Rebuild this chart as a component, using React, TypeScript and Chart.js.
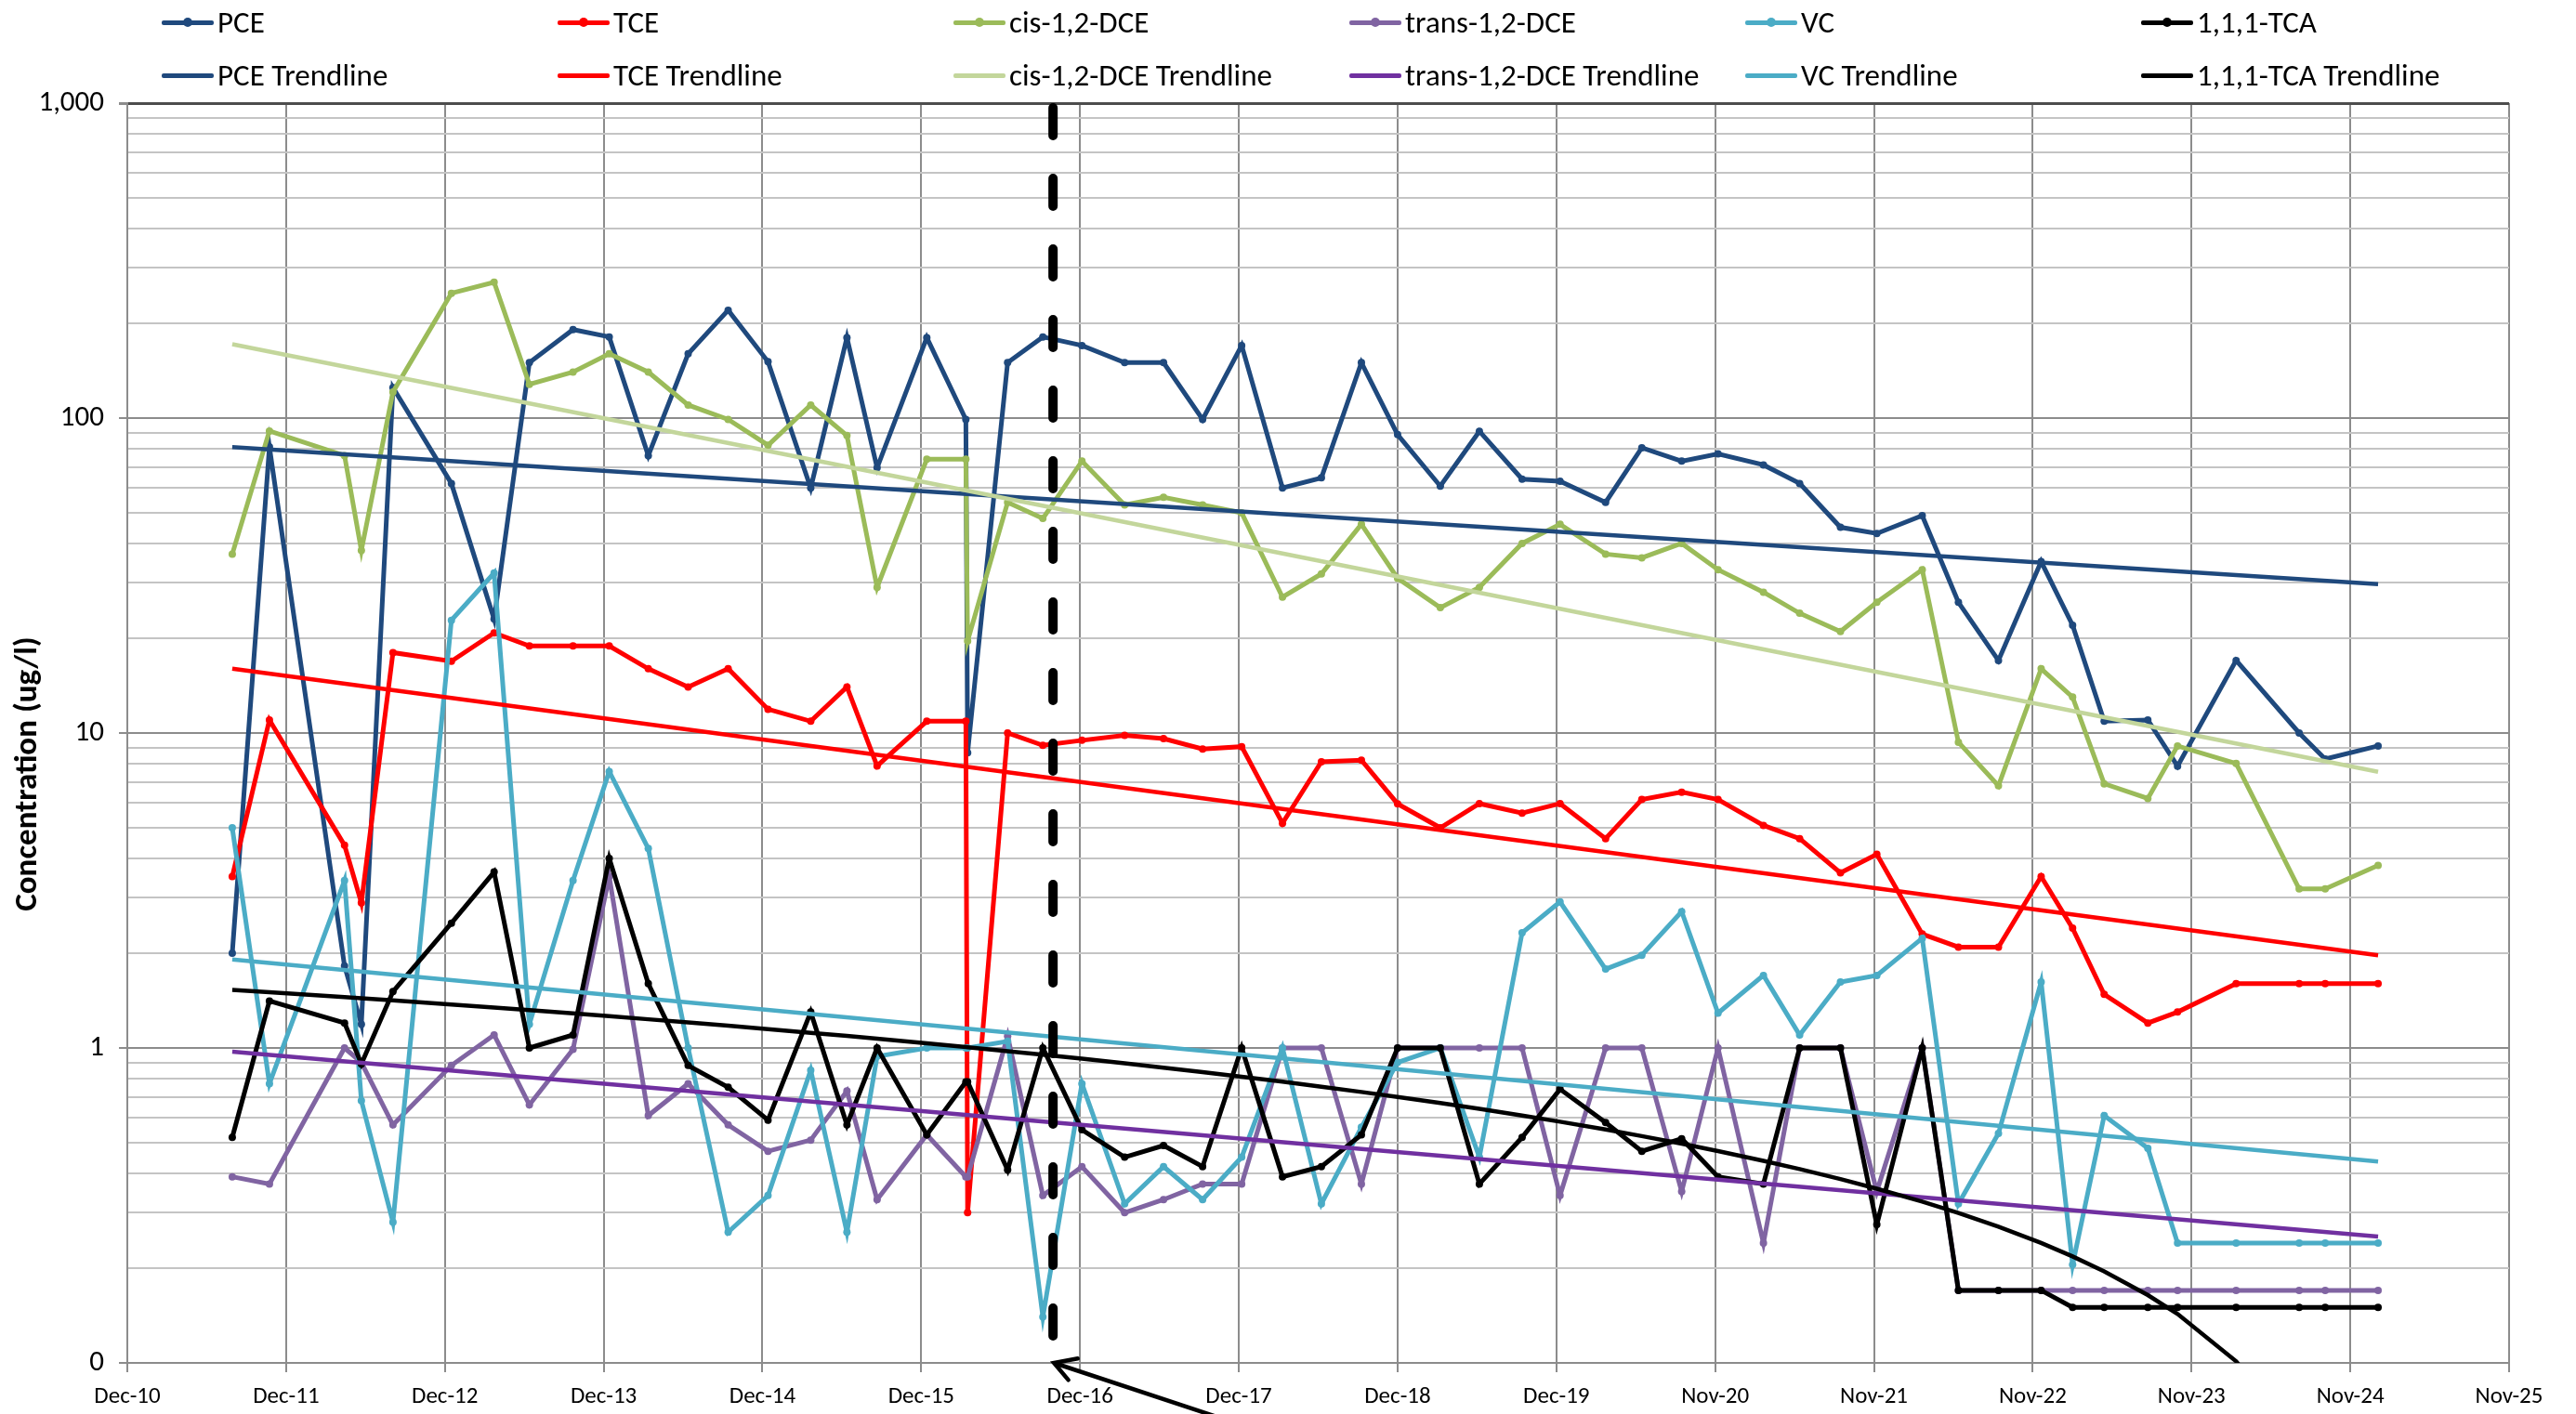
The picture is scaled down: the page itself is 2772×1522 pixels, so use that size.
import React, { useEffect, useRef } from 'react';
import { Chart, registerables } from 'chart.js';

Chart.register(...registerables);

const FONT = 'Calibri, Carlito, Lato, "Noto Sans", sans-serif';

// x axis: years counted from the first axis tick (Dec-10), one tick per year
const xTickLabels = [
  'Dec-10', 'Dec-11', 'Dec-12', 'Dec-13', 'Dec-14', 'Dec-15', 'Dec-16', 'Dec-17',
  'Dec-18', 'Dec-19', 'Nov-20', 'Nov-21', 'Nov-22', 'Nov-23', 'Nov-24', 'Nov-25',
];

const sampleYears = [
  0.661, 0.895, 1.368, 1.474, 1.673, 2.041, 2.31, 2.532, 2.807, 3.035,
  3.281, 3.532, 3.784, 4.035, 4.304, 4.532, 4.722, 5.035, 5.281, 5.292,
  5.544, 5.766, 6.012, 6.281, 6.526, 6.772, 7.018, 7.275, 7.52, 7.772,
  8.0, 8.269, 8.515, 8.784, 9.023, 9.31, 9.538, 9.789, 10.018, 10.304,
  10.532, 10.789, 11.018, 11.304, 11.532, 11.784, 12.053, 12.251, 12.45, 12.725,
  12.912, 13.281, 13.678, 13.842, 14.175,
];

const pce = [
  2.0, 81, 1.82, 1.19, 125, 62, 23, 150, 191, 181,
  76, 160, 220, 151, 60, 180, 69.5, 180, 99, 8.65,
  150, 181, 170, 150, 150, 99, 170, 60, 64.6, 150,
  88.6, 60.8, 90.8, 64, 63, 54, 80.5, 73, 77, 71,
  62, 45, 43, 49, 26, 17, 35, 22, 10.9, 11,
  7.85, 17, 10, 8.27, 9.1,
];

const tce = [
  3.5, 11, 4.4, 2.89, 18, 16.9, 20.8, 18.9, 18.9, 18.9,
  16, 14, 16, 11.9, 10.9, 14, 7.86, 10.9, 10.9, 0.3,
  10, 9.14, 9.48, 9.83, 9.6, 8.9, 9.05, 5.17, 8.1, 8.2,
  5.96, 5.0, 5.97, 5.57, 5.97, 4.62, 6.15, 6.49, 6.15, 5.09,
  4.62, 3.6, 4.12, 2.3, 2.09, 2.09, 3.5, 2.4, 1.48, 1.2,
  1.3, 1.6, 1.6, 1.6, 1.6,
];

const cisDce = [
  37, 91, 76, 38, 121, 249, 270, 128, 140, 160,
  140, 110, 99, 82, 110, 88, 29, 74, 74, 19.6,
  54, 48, 73, 53, 56, 53, 50, 27, 32, 46,
  31, 25, 29, 40, 46, 37, 36, 40, 33, 28,
  24, 21, 26, 33, 9.35, 6.8, 16, 13, 6.9, 6.2,
  9.1, 8.0, 3.2, 3.2, 3.8,
];

const transDce = [
  0.39, 0.37, 1.0, 0.9, 0.57, 0.88, 1.1, 0.66, 0.99, 3.5,
  0.61, 0.77, 0.57, 0.47, 0.51, 0.73, 0.33, 0.53, 0.39, 0.39,
  1.09, 0.34, 0.42, 0.3, 0.33, 0.37, 0.37, 1.0, 1.0, 0.37,
  1.0, 1.0, 1.0, 1.0, 0.34, 1.0, 1.0, 0.35, 1.0, 0.24,
  1.0, 1.0, 0.35, 1.0, 0.17, 0.17, 0.17, 0.17, 0.17, 0.17,
  0.17, 0.17, 0.17, 0.17, 0.17,
];

const vc = [
  5.0, 0.77, 3.4, 0.68, 0.28, 22.8, 32.2, 1.19, 3.4, 7.55,
  4.3, 1.0, 0.26, 0.34, 0.85, 0.26, 0.94, 1.0, 1.0, 1.0,
  1.05, 0.14, 0.77, 0.32, 0.42, 0.33, 0.45, 1.0, 0.32, 0.56,
  0.9, 1.0, 0.45, 2.32, 2.91, 1.78, 1.97, 2.71, 1.29, 1.7,
  1.1, 1.62, 1.7, 2.23, 0.32, 0.535, 1.62, 0.205, 0.61, 0.48,
  0.24, 0.24, 0.24, 0.24, 0.24,
];

const tca = [
  0.52, 1.41, 1.2, 0.89, 1.51, 2.49, 3.62, 1.0, 1.1, 4.0,
  1.6, 0.88, 0.75, 0.59, 1.3, 0.57, 1.0, 0.53, 0.78, 0.78,
  0.41, 1.0, 0.55, 0.45, 0.49, 0.42, 1.0, 0.39, 0.42, 0.53,
  1.0, 1.0, 0.37, 0.52, 0.74, 0.58, 0.47, 0.515, 0.39, 0.37,
  1.0, 1.0, 0.275, 1.0, 0.17, 0.17, 0.17, 0.15, 0.15, 0.15,
  0.15, 0.15, 0.15, 0.15, 0.15,
];

const seriesNames = ['PCE', 'TCE', 'cis-1,2-DCE', 'trans-1,2-DCE', 'VC', '1,1,1-TCA'];
const seriesValues = [pce, tce, cisDce, transDce, vc, tca];
const seriesColors = ['#1F497D', '#FF0000', '#9BBB59', '#8064A2', '#4BACC6', '#000000'];
const trendColors = ['#1F497D', '#FF0000', '#C3D69B', '#7030A0', '#4BACC6', '#000000'];

// trendlines: value at first and at last sample date
const trendTypes = ['exponential', 'exponential', 'exponential', 'exponential', 'exponential', 'linear'];
const trendStartValues = [80.9, 16.0, 171.6, 0.973, 1.91, 1.53];
const trendEndValues = [29.7, 1.97, 7.53, 0.252, 0.436, 0.0];

const yAxisTitle = 'Concentration (ug/l)';

// event marker (dashed vertical line)
const markerYear = 5.83;

const PLOT = { left: 137, right: 2700, top: 111, bottom: 1467 };
const W = 2772;
const H = 1522;

function trendPoints(k: number) {
  const t0 = sampleYears[0];
  const t1 = sampleYears[sampleYears.length - 1];
  const a = trendStartValues[k];
  const b = trendEndValues[k];
  if (trendTypes[k] === 'exponential') {
    return [
      { x: t0, y: a },
      { x: t1, y: b },
    ];
  }
  const pts: { x: number; y: number }[] = [];
  for (const t of sampleYears) {
    const v = a + ((b - a) * (t - t0)) / (t1 - t0);
    pts.push({ x: t, y: v });
    if (v <= 0.1) break;
  }
  return pts;
}

function isDecade(v: number) {
  const l = Math.log10(v);
  return Math.abs(l - Math.round(l)) < 1e-9;
}

const markerPlugin = {
  id: 'eventMarker',
  afterDatasetsDraw(chart: any) {
    const { ctx, chartArea, scales } = chart;
    const x = scales.x.getPixelForValue(markerYear);
    ctx.save();
    ctx.strokeStyle = '#000000';
    ctx.lineWidth = 10;
    ctx.lineCap = 'round';
    ctx.setLineDash([30, 46]);
    ctx.beginPath();
    ctx.moveTo(x, chartArea.top + 5);
    ctx.lineTo(x, chartArea.bottom - 29);
    ctx.stroke();
    ctx.restore();
  },
  afterDraw(chart: any) {
    const { ctx, chartArea, scales } = chart;
    const tipX = scales.x.getPixelForValue(markerYear) + 1;
    const tipY = chartArea.bottom;
    const ang = Math.atan2(0.331, 1);
    ctx.save();
    ctx.strokeStyle = '#000000';
    ctx.lineWidth = 4.5;
    ctx.lineCap = 'round';
    ctx.beginPath();
    ctx.moveTo(tipX + 3, tipY + 1);
    ctx.lineTo(tipX + 400, tipY + 400 * 0.331);
    ctx.stroke();
    ctx.beginPath();
    ctx.moveTo(tipX + 26 * Math.cos(ang - 0.5), tipY + 26 * Math.sin(ang - 0.5));
    ctx.lineTo(tipX, tipY);
    ctx.lineTo(tipX + 24 * Math.cos(ang + 0.55), tipY + 24 * Math.sin(ang + 0.55));
    ctx.stroke();

    // y axis title, centred slightly below the plot middle as in the original
    ctx.fillStyle = '#000000';
    ctx.font = 'bold 35px ' + FONT;
    ctx.textAlign = 'center';
    ctx.textBaseline = 'middle';
    ctx.translate(30, (chartArea.top + chartArea.bottom) / 2 + 44);
    ctx.rotate(-Math.PI / 2);
    ctx.fillText(yAxisTitle, 0, 0);
    ctx.restore();
  },
};

function LegendSymbol({ color, marker }: { color: string; marker: boolean }) {
  return (
    <span
      style={{
        position: 'relative',
        display: 'inline-block',
        width: 56,
        height: 5,
        background: color,
        borderRadius: 2,
        marginRight: 4,
      }}
    >
      {marker ? (
        <span
          style={{
            position: 'absolute',
            left: 23,
            top: -2.5,
            width: 10,
            height: 10,
            borderRadius: 5,
            background: color,
          }}
        />
      ) : null}
    </span>
  );
}

export default function App() {
  const canvasRef = useRef<HTMLCanvasElement | null>(null);

  useEffect(() => {
    const canvas = canvasRef.current;
    if (!canvas) return;

    const datasets: any[] = [];
    seriesValues.forEach((vals, k) => {
      datasets.push({
        label: seriesNames[k] + ' Trendline',
        data: trendPoints(k),
        borderColor: trendColors[k],
        backgroundColor: trendColors[k],
        borderWidth: 4.5,
        pointRadius: 0,
        tension: 0,
        order: 10 - k,
      });
    });
    seriesValues.forEach((vals, k) => {
      datasets.push({
        label: seriesNames[k],
        data: sampleYears.map((t, i) => ({ x: t, y: vals[i] })),
        borderColor: seriesColors[k],
        backgroundColor: seriesColors[k],
        borderWidth: 5,
        pointRadius: 4,
        pointHoverRadius: 4,
        pointBorderWidth: 0,
        tension: 0,
        order: 20 - k,
      });
    });

    const chart = new Chart(canvas, {
      type: 'line',
      data: { datasets },
      plugins: [markerPlugin],
      options: {
        animation: false,
        responsive: false,
        maintainAspectRatio: false,
        events: [],
        layout: {
          padding: { left: 0, right: W - PLOT.right, top: PLOT.top, bottom: 0 },
        },
        plugins: {
          legend: { display: false },
          tooltip: { enabled: false },
        },
        scales: {
          x: {
            type: 'linear',
            min: 0,
            max: xTickLabels.length - 1,
            afterFit: (scale: any) => {
              scale.height = H - PLOT.bottom;
            },
            ticks: {
              stepSize: 1,
              autoSkip: false,
              maxRotation: 0,
              padding: 12,
              color: '#000000',
              font: { family: FONT, size: 25 },
              callback: (v: any) => xTickLabels[Math.round(Number(v))] ?? '',
            },
            grid: {
              color: '#8C8C8C',
              lineWidth: 2,
              tickLength: 10,
              tickColor: '#8C8C8C',
            },
            border: { color: '#8C8C8C', width: 2 },
          },
          y: {
            type: 'logarithmic',
            min: 0.1,
            max: 1000,
            afterFit: (scale: any) => {
              scale.width = PLOT.left;
            },
            afterBuildTicks: (scale: any) => {
              const t: any[] = [];
              for (let e = -1; e <= 2; e++) {
                for (let m = 1; m <= 9; m++) t.push({ value: m * Math.pow(10, e) });
              }
              t.push({ value: 1000 });
              scale.ticks = t;
            },
            title: { display: false },
            ticks: {
              autoSkip: false,
              padding: 16,
              color: '#000000',
              font: { family: FONT, size: 31 },
              callback: (v: any) => {
                const n = Number(v);
                if (!isDecade(n)) return '';
                if (n < 1) return '0';
                return n.toLocaleString('en-US');
              },
            },
            grid: {
              color: (ctx: any) => {
                const v = ctx.tick ? ctx.tick.value : 0;
                if (v >= 999) return '#4D4D4D';
                return isDecade(v) ? '#8C8C8C' : '#C4C4C4';
              },
              lineWidth: (ctx: any) => {
                const v = ctx.tick ? ctx.tick.value : 0;
                return v >= 999 ? 3 : 2;
              },
              tickLength: 9,
              tickColor: (ctx: any) => {
                const v = ctx.tick ? ctx.tick.value : 0;
                return isDecade(v) ? '#8C8C8C' : 'rgba(0,0,0,0)';
              },
            },
            border: { color: '#8C8C8C', width: 2 },
          },
        },
      } as any,
    });

    return () => {
      chart.destroy();
    };
  }, []);

  const colStart = 174;
  const colStep = 426;
  const rowCenters = [24, 81];

  const legendItems: { label: string; color: string; marker: boolean; col: number; row: number }[] = [];
  seriesNames.forEach((name, k) => {
    legendItems.push({ label: name, color: seriesColors[k], marker: true, col: k, row: 0 });
  });
  seriesNames.forEach((name, k) => {
    legendItems.push({ label: name + ' Trendline', color: trendColors[k], marker: false, col: k, row: 1 });
  });

  return (
    <div
      style={{
        position: 'absolute',
        left: 0,
        top: 0,
        width: W,
        height: H,
        background: '#FFFFFF',
        overflow: 'hidden',
      }}
    >
      <canvas ref={canvasRef} width={W} height={H} style={{ position: 'absolute', left: 0, top: 0, width: W, height: H }} />
      {legendItems.map((it, i) => (
        <div
          key={i}
          style={{
            position: 'absolute',
            left: colStart + it.col * colStep,
            top: rowCenters[it.row] - 20,
            height: 40,
            display: 'flex',
            alignItems: 'center',
            fontFamily: FONT,
            fontSize: 33,
            color: '#000000',
            whiteSpace: 'nowrap',
          }}
        >
          <LegendSymbol color={it.color} marker={it.marker} />
          <span>{it.label}</span>
        </div>
      ))}
    </div>
  );
}
